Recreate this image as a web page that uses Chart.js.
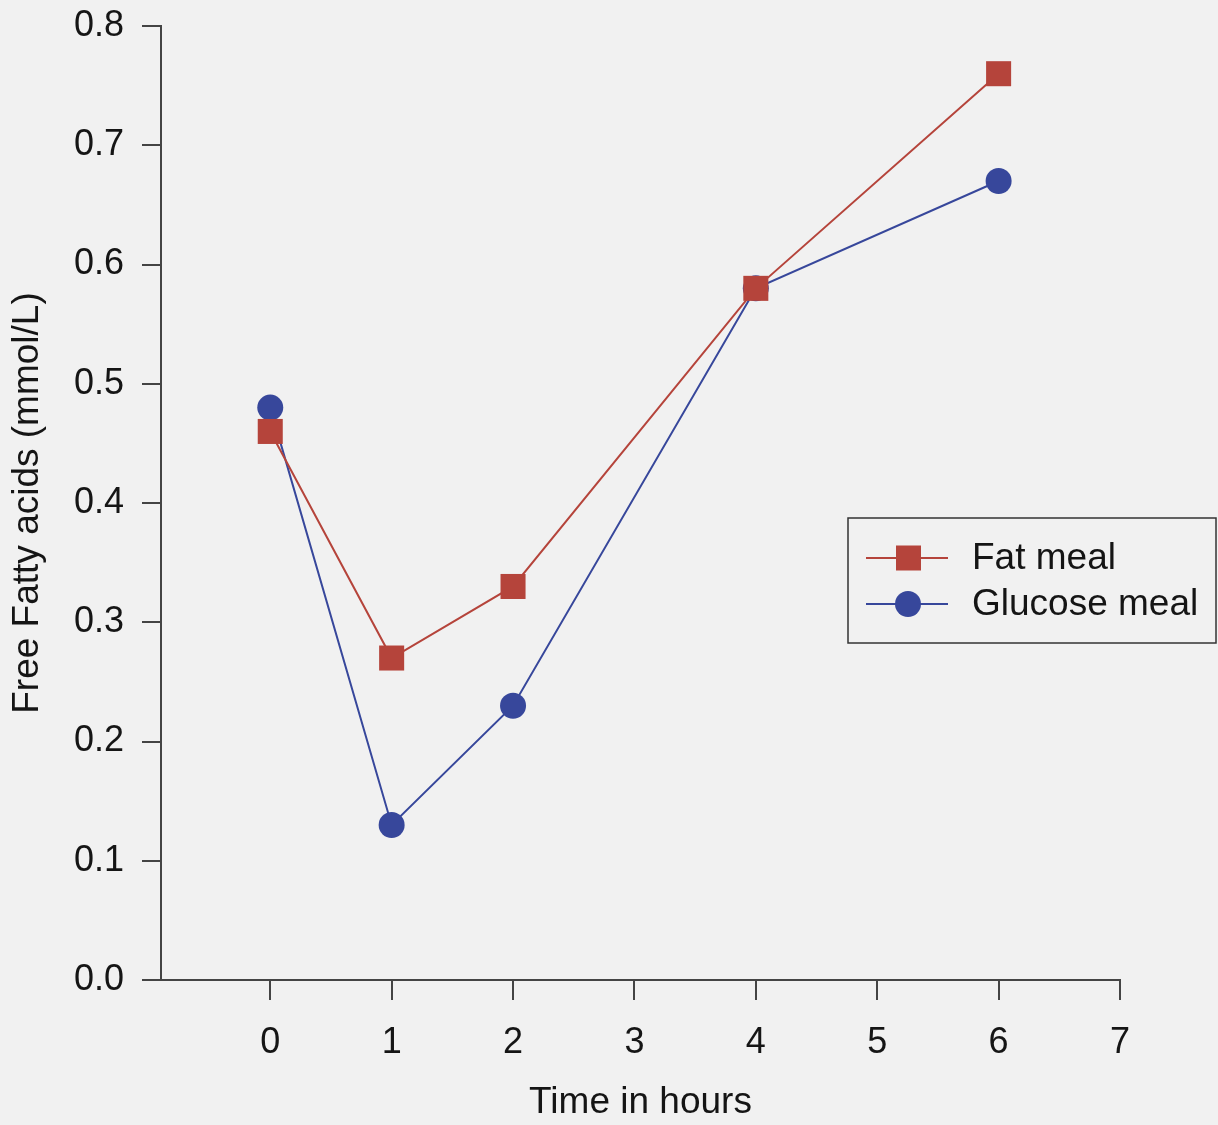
<!DOCTYPE html>
<html lang="en">
<head>
<meta charset="UTF-8">
<title>Free Fatty acids</title>
<script src="https://cdn.jsdelivr.net/npm/chart.js@4/dist/chart.umd.min.js"></script>
<style>
  body { margin: 0; background: #f1f1f1; }
  .wrap { width: 1218px; height: 1125px; }
</style>
</head>
<body>
<div class="wrap"><canvas id="ffaChart" width="1218" height="1125"></canvas></div>
<script>
  // values
  const hours = [0, 1, 2, 4, 6];
  const fatMeal = [0.46, 0.27, 0.33, 0.58, 0.76];
  const glucoseMeal = [0.48, 0.13, 0.23, 0.58, 0.67];
  const xTicks = [0, 1, 2, 3, 4, 5, 6, 7];
  const seriesNames = ["Fat meal", "Glucose meal"];

  const red = "#b5443b";
  const blue = "#37479b";
  const axisColor = "#444";
  const textColor = "#151515";
  const font = "'Liberation Sans', Arial, sans-serif";

  const toPoints = (xs, ys) => xs.map((x, i) => ({ x: x, y: ys[i] }));

  // boxed legend on the right, plus the x axis line poking left past the y axis
  const extras = {
    id: "extras",
    afterDraw(chart) {
      const ctx = chart.ctx;
      const area = chart.chartArea;
      ctx.save();
      ctx.strokeStyle = axisColor;
      ctx.lineWidth = 2;
      ctx.beginPath();
      ctx.moveTo(area.left - 19, area.bottom);
      ctx.lineTo(area.left, area.bottom);
      ctx.stroke();

      // legend box
      ctx.strokeStyle = "#333";
      ctx.lineWidth = 1.5;
      ctx.strokeRect(848, 518, 368, 125);
      const rows = [
        { y: 558, color: red, style: "rect" },
        { y: 604, color: blue, style: "circle" }
      ];
      ctx.font = "37px " + font;
      ctx.textBaseline = "middle";
      rows.forEach((r, i) => {
        ctx.strokeStyle = r.color;
        ctx.lineWidth = 2;
        ctx.beginPath();
        ctx.moveTo(866, r.y);
        ctx.lineTo(948, r.y);
        ctx.stroke();
        ctx.fillStyle = r.color;
        if (r.style === "rect") {
          ctx.fillRect(896, r.y - 12.5, 25, 25);
        } else {
          ctx.beginPath();
          ctx.arc(908, r.y, 13, 0, Math.PI * 2);
          ctx.fill();
        }
        ctx.fillStyle = textColor;
        ctx.fillText(seriesNames[i], 972, r.y + 1);
      });
      ctx.restore();
    }
  };

  new Chart(document.getElementById("ffaChart"), {
    type: "line",
    data: {
      datasets: [
        {
          label: seriesNames[0],
          data: toPoints(hours, fatMeal),
          borderColor: red,
          backgroundColor: red,
          borderWidth: 2,
          pointStyle: "rect",
          pointRadius: 17.7,
          pointBorderWidth: 0
        },
        {
          label: seriesNames[1],
          data: toPoints(hours, glucoseMeal),
          borderColor: blue,
          backgroundColor: blue,
          borderWidth: 2,
          pointStyle: "circle",
          pointRadius: 13,
          pointBorderWidth: 0
        }
      ]
    },
    options: {
      responsive: false,
      animation: false,
      layout: { padding: { top: 26, right: 98, left: 0, bottom: 0 } },
      plugins: {
        legend: { display: false },
        tooltip: { enabled: false }
      },
      scales: {
        x: {
          type: "linear",
          min: -0.9,
          max: 7,
          afterBuildTicks: (scale) => { scale.ticks = xTicks.map(v => ({ value: v })); },
          afterFit: (scale) => {
            scale.height = 145;
            scale.paddingLeft = 0;
            scale.paddingRight = 0;
          },
          border: { color: axisColor, width: 2 },
          grid: { drawOnChartArea: false, tickLength: 20, color: axisColor, lineWidth: 2 },
          ticks: { color: textColor, padding: 21, font: { family: font, size: 36 } },
          title: {
            display: true,
            text: "Time in hours",
            color: textColor,
            padding: { top: 0, bottom: 0 },
            font: { family: font, size: 37 }
          }
        },
        y: {
          min: 0,
          max: 0.8,
          afterFit: (scale) => {
            scale.width = 161;
            scale.paddingTop = 0;
            scale.paddingBottom = 0;
          },
          border: { color: axisColor, width: 2 },
          grid: { drawOnChartArea: false, tickLength: 19, color: axisColor, lineWidth: 2 },
          ticks: {
            stepSize: 0.1,
            color: textColor,
            padding: 18,
            font: { family: font, size: 36 },
            callback: (v) => v.toFixed(1)
          },
          title: {
            display: true,
            text: "Free Fatty acids (mmol/L)",
            color: textColor,
            padding: { top: 6, bottom: 0 },
            font: { family: font, size: 37 }
          }
        }
      }
    },
    plugins: [extras]
  });
</script>
</body>
</html>
